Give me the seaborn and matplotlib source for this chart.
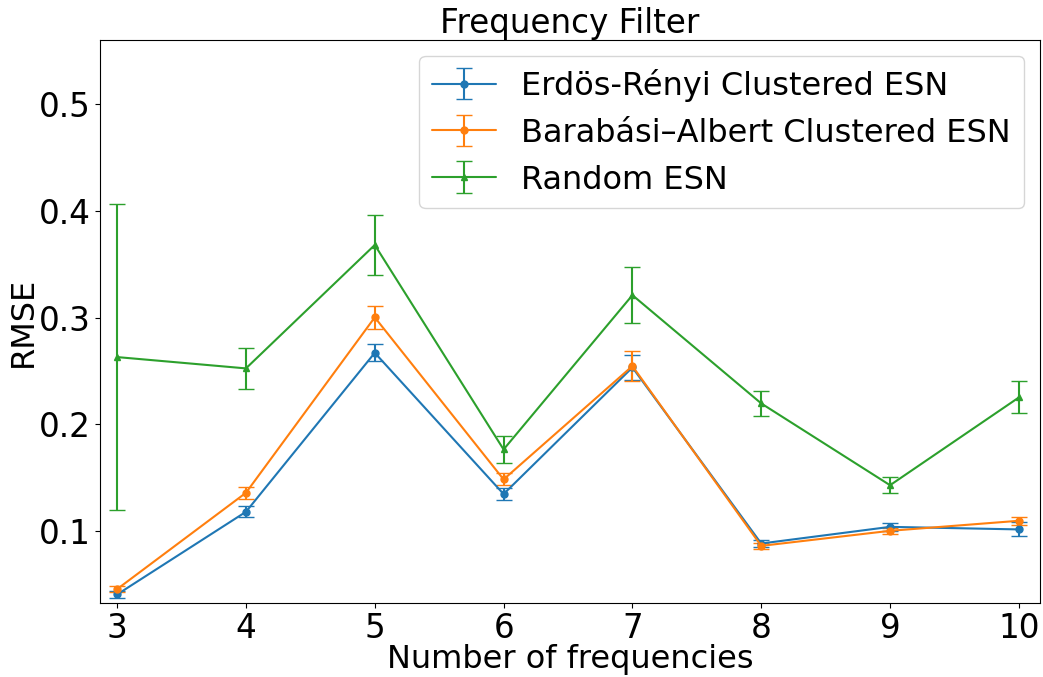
import matplotlib
matplotlib.use("Agg")
import matplotlib.pyplot as plt
import seaborn as sns

# Number of frequencies in the input signal
freqs = [3, 4, 5, 6, 7, 8, 9, 10]

# Mean RMSE and its spread for each reservoir type
er_mean = [0.0407, 0.1181, 0.2670, 0.1347, 0.2533, 0.0884, 0.1040, 0.1016]
er_err = [0.0030, 0.0050, 0.0080, 0.0060, 0.0120, 0.0030, 0.0040, 0.0065]

ba_mean = [0.0457, 0.1359, 0.3002, 0.1484, 0.2546, 0.0862, 0.1003, 0.1097]
ba_err = [0.0030, 0.0055, 0.0110, 0.0056, 0.0140, 0.0030, 0.0030, 0.0040]

rnd_mean = [0.2630, 0.2524, 0.3680, 0.1765, 0.3210, 0.2196, 0.1430, 0.2252]
rnd_err = [0.1430, 0.0190, 0.0280, 0.0125, 0.0260, 0.0120, 0.0075, 0.0150]

labels = ["Erdös-Rényi Clustered ESN", "Barabási–Albert Clustered ESN", "Random ESN"]
markers = ["o", "o", "^"]

sns.set_theme(style="ticks", context="notebook")
plt.rcParams["font.family"] = ["DejaVu Sans"]
plt.rcParams.update({
    "axes.linewidth": 0.8,
    "xtick.major.size": 3.5, "ytick.major.size": 3.5,
    "xtick.major.width": 0.8, "ytick.major.width": 0.8,
    "axes.edgecolor": "black",
    "text.color": "black",
    "axes.labelcolor": "black",
})

palette = sns.color_palette("tab10", 3)

fig, ax = plt.subplots(figsize=(10.43, 6.77), dpi=100)
fig.subplots_adjust(left=0.096, right=0.997, top=0.941, bottom=0.109)

series = [(er_mean, er_err), (ba_mean, ba_err), (rnd_mean, rnd_err)]
for (m, e), lab, mk, col in zip(series, labels, markers, palette):
    ax.errorbar(freqs, m, yerr=e, label=lab, color=col, marker=mk,
                markersize=5, capsize=6, linewidth=1.5, elinewidth=1.5)

ax.set_xlim(2.868, 10.163)
ax.set_ylim(0.0325, 0.560)
ax.set_xticks(freqs)
ax.set_yticks([0.1, 0.2, 0.3, 0.4, 0.5])
ax.tick_params(labelsize=23.5, colors="black", pad=3)

ax.set_xlabel("Number of frequencies", fontsize=23, labelpad=-1)
ax.set_ylabel("RMSE", fontsize=23, labelpad=0)
ax.set_title("Frequency Filter", fontsize=23.5, pad=5)
ax.legend(loc="upper right", fontsize=23, handlelength=2.0)

fig.savefig("out.png", dpi=100)
